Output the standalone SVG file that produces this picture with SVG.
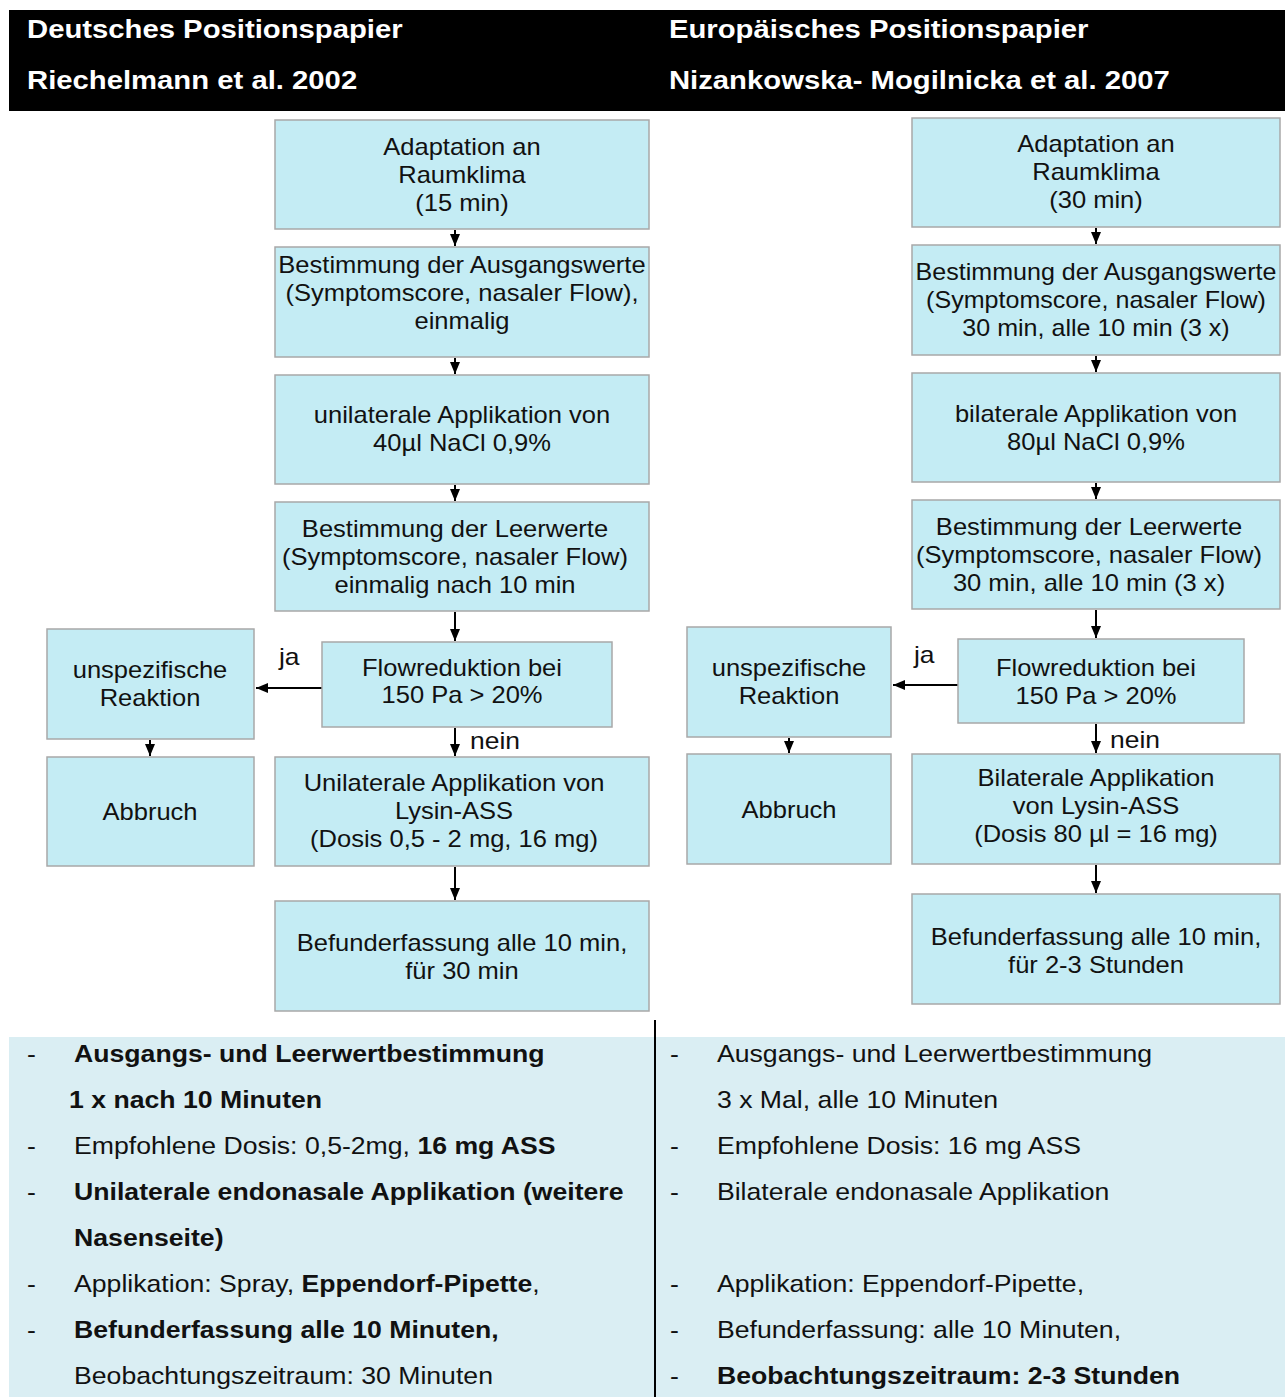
<svg xmlns="http://www.w3.org/2000/svg" width="1285" height="1397" viewBox="0 0 1285 1397">
<defs>
<style>
.box{fill:#C4ECF4;stroke:#A8A8A8;stroke-width:1.5}
.t{font-family:"Liberation Sans",Arial,sans-serif;font-size:23px;fill:#111;text-anchor:middle}
.lbl{font-family:"Liberation Sans",Arial,sans-serif;font-size:23px;fill:#111}
.h{font-family:"Liberation Sans",Arial,sans-serif;font-size:26px;font-weight:bold;fill:#fff}
.b{font-family:"Liberation Sans",Arial,sans-serif;font-size:24px;fill:#111}
.bb{font-weight:bold}
.c{stroke:#000;stroke-width:2;fill:none;marker-end:url(#ah)}
</style>
<marker id="ah" markerUnits="userSpaceOnUse" markerWidth="12" markerHeight="12" viewBox="0 0 12 12" refX="12" refY="6" orient="auto">
<path d="M0,1 L12,6 L0,11 Z" fill="#000"/>
</marker>
</defs>
<rect width="1285" height="1397" fill="#fff"/>
<g id="header">
<rect x="9" y="10" width="1276" height="101" fill="#000"/>
<g transform="scale(1.126,1)">
<text class="h" x="23.98" y="38">Deutsches Positionspapier</text>
<text class="h" x="23.98" y="89">Riechelmann et al. 2002</text>
<text class="h" x="594.1" y="38">Europäisches Positionspapier</text>
<text class="h" x="594.1" y="89">Nizankowska- Mogilnicka et al. 2007</text>
</g>
</g>
<g id="connectors">
<line class="c" x1="455" y1="230" x2="455" y2="246"/>
<line class="c" x1="455" y1="358" x2="455" y2="374"/>
<line class="c" x1="455" y1="485" x2="455" y2="501"/>
<line class="c" x1="455" y1="612" x2="455" y2="641"/>
<line class="c" x1="322" y1="688" x2="256" y2="688"/>
<line class="c" x1="150" y1="740" x2="150" y2="756"/>
<line class="c" x1="455" y1="728" x2="455" y2="756"/>
<line class="c" x1="455" y1="867" x2="455" y2="900"/>
<line class="c" x1="1096" y1="228" x2="1096" y2="244"/>
<line class="c" x1="1096" y1="356" x2="1096" y2="372"/>
<line class="c" x1="1096" y1="483" x2="1096" y2="499"/>
<line class="c" x1="1096" y1="610" x2="1096" y2="638"/>
<line class="c" x1="958" y1="685" x2="893" y2="685"/>
<line class="c" x1="789" y1="738" x2="789" y2="753"/>
<line class="c" x1="1096" y1="724" x2="1096" y2="753"/>
<line class="c" x1="1096" y1="865" x2="1096" y2="893"/>
<text class="lbl" transform="translate(279,665) scale(1.15,1)">ja</text>
<text class="lbl" transform="translate(470,749) scale(1.15,1)">nein</text>
<text class="lbl" transform="translate(914,663) scale(1.15,1)">ja</text>
<text class="lbl" transform="translate(1110,748) scale(1.15,1)">nein</text>
</g>
<g id="L1"><rect class="box" x="275" y="120" width="374" height="109"/>
<g transform="translate(462,0) scale(1.11,1)"><text class="t" x="0" y="155">Adaptation an</text><text class="t" x="0" y="183">Raumklima</text><text class="t" x="0" y="211">(15 min)</text></g></g>
<g id="L2"><rect class="box" x="275" y="247" width="374" height="110"/>
<g transform="translate(462,0) scale(1.11,1)"><text class="t" x="0" y="273">Bestimmung der Ausgangswerte</text><text class="t" x="0" y="301">(Symptomscore, nasaler Flow),</text><text class="t" x="0" y="329">einmalig</text></g></g>
<g id="L3"><rect class="box" x="275" y="375" width="374" height="109"/>
<g transform="translate(462,0) scale(1.11,1)"><text class="t" x="0" y="423">unilaterale Applikation von</text><text class="t" x="0" y="451">40µl NaCl 0,9%</text></g></g>
<g id="L4"><rect class="box" x="275" y="502" width="374" height="109"/>
<g transform="translate(455,0) scale(1.11,1)"><text class="t" x="0" y="537">Bestimmung der Leerwerte</text><text class="t" x="0" y="565">(Symptomscore, nasaler Flow)</text><text class="t" x="0" y="593">einmalig nach 10 min</text></g></g>
<g id="L5"><rect class="box" x="322" y="642" width="290" height="85"/>
<g transform="translate(462,0) scale(1.11,1)"><text class="t" x="0" y="676">Flowreduktion bei</text><text class="t" x="0" y="703">150 Pa &gt; 20%</text></g></g>
<g id="L6"><rect class="box" x="47" y="629" width="207" height="110"/>
<g transform="translate(150,0) scale(1.11,1)"><text class="t" x="0" y="678">unspezifische</text><text class="t" x="0" y="706">Reaktion</text></g></g>
<g id="L7"><rect class="box" x="47" y="757" width="207" height="109"/>
<g transform="translate(150,0) scale(1.11,1)"><text class="t" x="0" y="820">Abbruch</text></g></g>
<g id="L8"><rect class="box" x="275" y="757" width="374" height="109"/>
<g transform="translate(454,0) scale(1.11,1)"><text class="t" x="0" y="791">Unilaterale Applikation von</text><text class="t" x="0" y="819">Lysin-ASS</text><text class="t" x="0" y="847">(Dosis 0,5 - 2 mg, 16 mg)</text></g></g>
<g id="L9"><rect class="box" x="275" y="901" width="374" height="110"/>
<g transform="translate(462,0) scale(1.11,1)"><text class="t" x="0" y="951">Befunderfassung alle 10 min,</text><text class="t" x="0" y="979">für 30 min</text></g></g>
<g id="R1"><rect class="box" x="912" y="118" width="368" height="109"/>
<g transform="translate(1096,0) scale(1.11,1)"><text class="t" x="0" y="152">Adaptation an</text><text class="t" x="0" y="180">Raumklima</text><text class="t" x="0" y="208">(30 min)</text></g></g>
<g id="R2"><rect class="box" x="912" y="245" width="368" height="110"/>
<g transform="translate(1096,0) scale(1.09,1)"><text class="t" x="0" y="280">Bestimmung der Ausgangswerte</text><text class="t" x="0" y="308">(Symptomscore, nasaler Flow)</text><text class="t" x="0" y="336">30 min, alle 10 min (3 x)</text></g></g>
<g id="R3"><rect class="box" x="912" y="373" width="368" height="109"/>
<g transform="translate(1096,0) scale(1.11,1)"><text class="t" x="0" y="422">bilaterale Applikation von</text><text class="t" x="0" y="450">80µl NaCl 0,9%</text></g></g>
<g id="R4"><rect class="box" x="912" y="500" width="368" height="109"/>
<g transform="translate(1089,0) scale(1.11,1)"><text class="t" x="0" y="535">Bestimmung der Leerwerte</text><text class="t" x="0" y="563">(Symptomscore, nasaler Flow)</text><text class="t" x="0" y="591">30 min, alle 10 min (3 x)</text></g></g>
<g id="R5"><rect class="box" x="958" y="639" width="286" height="84"/>
<g transform="translate(1096,0) scale(1.11,1)"><text class="t" x="0" y="676">Flowreduktion bei</text><text class="t" x="0" y="704">150 Pa &gt; 20%</text></g></g>
<g id="R6"><rect class="box" x="687" y="627" width="204" height="110"/>
<g transform="translate(789,0) scale(1.11,1)"><text class="t" x="0" y="676">unspezifische</text><text class="t" x="0" y="704">Reaktion</text></g></g>
<g id="R7"><rect class="box" x="687" y="754" width="204" height="110"/>
<g transform="translate(789,0) scale(1.11,1)"><text class="t" x="0" y="818">Abbruch</text></g></g>
<g id="R8"><rect class="box" x="912" y="754" width="368" height="110"/>
<g transform="translate(1096,0) scale(1.11,1)"><text class="t" x="0" y="786">Bilaterale Applikation</text><text class="t" x="0" y="814">von Lysin-ASS</text><text class="t" x="0" y="842">(Dosis 80 µl = 16 mg)</text></g></g>
<g id="R9"><rect class="box" x="912" y="894" width="368" height="110"/>
<g transform="translate(1096,0) scale(1.11,1)"><text class="t" x="0" y="945">Befunderfassung alle 10 min,</text><text class="t" x="0" y="973">für 2-3 Stunden</text></g></g>
<g id="summary">
<rect x="9" y="1037" width="1276" height="360" fill="#DAEEF3"/>
<line x1="655" y1="1020" x2="655" y2="1397" stroke="#000" stroke-width="2"/>
<g class="b" transform="scale(1.11,1)">
<text x="24.3" y="1062">-</text><text x="66.7" y="1062" class="bb">Ausgangs- und Leerwertbestimmung</text>
<text x="62.2" y="1108" class="bb">1 x nach 10 Minuten</text>
<text x="24.3" y="1154">-</text><text x="66.7" y="1154">Empfohlene Dosis: 0,5-2mg, <tspan class="bb">16 mg ASS</tspan></text>
<text x="24.3" y="1200">-</text><text x="66.7" y="1200" class="bb">Unilaterale endonasale Applikation (weitere</text>
<text x="66.7" y="1246" class="bb">Nasenseite)</text>
<text x="24.3" y="1292">-</text><text x="66.7" y="1292">Applikation: Spray, <tspan class="bb">Eppendorf-Pipette</tspan>,</text>
<text x="24.3" y="1338">-</text><text x="66.7" y="1338" class="bb">Befunderfassung alle 10 Minuten,</text>
<text x="66.7" y="1384">Beobachtungszeitraum: 30 Minuten</text>
<text x="603.6" y="1062">-</text><text x="645.9" y="1062">Ausgangs- und Leerwertbestimmung</text>
<text x="645.9" y="1108">3 x Mal, alle 10 Minuten</text>
<text x="603.6" y="1154">-</text><text x="645.9" y="1154">Empfohlene Dosis: 16 mg ASS</text>
<text x="603.6" y="1200">-</text><text x="645.9" y="1200">Bilaterale endonasale Applikation</text>
<text x="603.6" y="1292">-</text><text x="645.9" y="1292">Applikation: Eppendorf-Pipette,</text>
<text x="603.6" y="1338">-</text><text x="645.9" y="1338">Befunderfassung: alle 10 Minuten,</text>
<text x="603.6" y="1384">-</text><text x="645.9" y="1384" class="bb">Beobachtungszeitraum: 2-3 Stunden</text>
</g>
</g>
</svg>
